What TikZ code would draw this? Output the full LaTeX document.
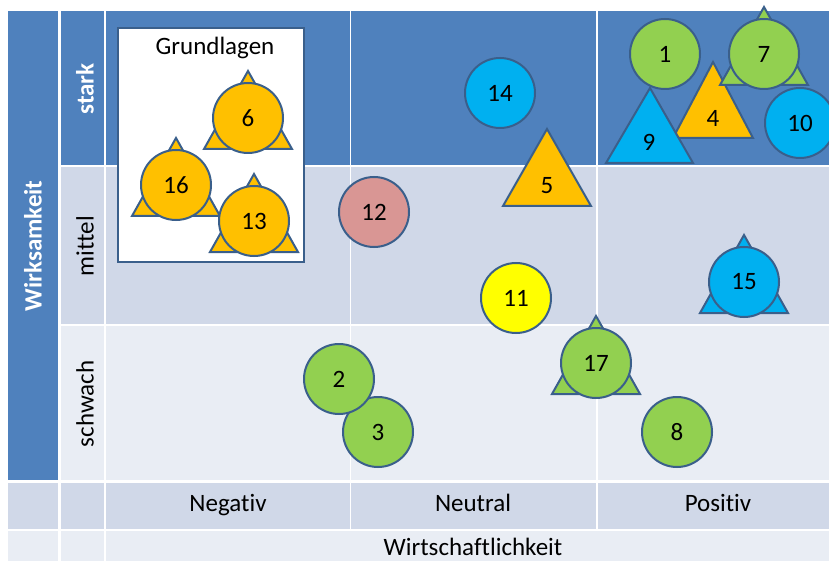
\documentclass[tikz,border=0pt]{standalone}
\usepackage{fontspec}
\setmainfont{Carlito}[Ligatures={NoCommon}]
\definecolor{hdr}{HTML}{4F81BD}
\definecolor{midrow}{HTML}{D0D8E8}
\definecolor{lowrow}{HTML}{E9EDF4}
\definecolor{edge}{HTML}{3A5F8B}
\definecolor{cgreen}{HTML}{92D050}
\definecolor{corange}{HTML}{FFC000}
\definecolor{ccyan}{HTML}{00B0F0}
\definecolor{cyellow}{HTML}{FFFF00}
\definecolor{cpink}{HTML}{D99694}
\newcommand\tricirc[5]{%
  \draw[tri, fill=#4] ({#2-44},{#3+31}) -- (#2,{#3-47}) -- ({#2+44},{#3+31}) -- cycle;
  \node[dot, fill=#4] (#1) at (#2,#3) {#5};}
\begin{document}
\begin{tikzpicture}[x=1pt,y=-1pt,
  dot/.style={circle, draw=edge, line width=2pt, minimum size=70pt, inner sep=0pt, font=\fontsize{25}{30}\selectfont},
  tri/.style={draw=edge, line width=2pt, line join=miter},
  lbl/.style={font=\fontsize{25}{30}\selectfont, inner sep=0pt},
  hlbl/.style={font=\fontsize{25}{30}\selectfont\bfseries, text=white, inner sep=0pt, rotate=90},
  rlbl/.style={font=\fontsize{25}{30}\selectfont, inner sep=0pt, rotate=90},
  sep/.style={white, line width=1.5pt}]
\useasboundingbox (0,0) rectangle (829,561);
\fill[white] (0,0) rectangle (829,561);
% table cells
\fill[hdr] (8,11) rectangle (58,480);
\fill[hdr] (61,11) rectangle (829,165);
\fill[midrow] (61,167.5) rectangle (829,324);
\fill[lowrow] (61,326) rectangle (829,480);
\fill[midrow] (8,483) rectangle (829,529);
\fill[lowrow] (8,531) rectangle (829,561);
\draw[white, line width=2.5pt] (59.5,11) -- (59.5,561);
\draw[sep] (105,11) -- (105,561);
\draw[sep] (350.5,11) -- (350.5,530);
\draw[sep] (597,11) -- (597,530);
% headers
\node[hlbl] (wirk) at (33,246) {Wirksamkeit};
\node[hlbl] (stark) at (85,89) {stark};
\node[rlbl] (mittel) at (85,246) {mittel};
\node[rlbl] (schwach) at (85,404) {schwach};
\node[lbl, anchor=base] (neg) at (228,511) {Negativ};
\node[lbl, anchor=base] (neu) at (473,511) {Neutral};
\node[lbl, anchor=base] (pos) at (718,511) {Positiv};
\node[lbl] (wirt) at (473,547) {Wirtschaftlichkeit};
% Grundlagen box
\draw[edge, fill=white, line width=2pt] (118,28) rectangle (304,262);
\node[lbl] (grund) at (215,48) {Grundlagen};
\tricirc{n6}{248}{118}{corange}{6}
\tricirc{n16}{176}{185}{corange}{16}
\tricirc{n13}{254}{221}{corange}{13}
% stark row
\node[dot, fill=ccyan] (n14) at (500,93) {14};
\node[dot, fill=cgreen] (n1) at (665,54) {1};
\draw[tri, fill=corange] (673,138) -- (713,62) -- (753,138) -- cycle;
\node[lbl] (n4) at (713,118) {4};
\draw[tri, fill=ccyan] (606,163) -- (650,88) -- (693,163) -- cycle;
\node[lbl] (n9) at (649,142) {9};
\tricirc{n7}{764}{54}{cgreen}{7}
\node[dot, fill=ccyan] (n10) at (800,123) {10};
\draw[tri, fill=corange] (503,206) -- (547,129) -- (591,206) -- cycle;
\node[lbl] (n5) at (547,186) {5};
% mittel row
\node[dot, fill=cpink] (n12) at (374,212) {12};
\node[dot, fill=cyellow] (n11) at (516,298) {11};
\tricirc{n15}{744}{282}{ccyan}{15}
% schwach row
\node[dot, fill=cgreen] (n3) at (378,432) {3};
\node[dot, fill=cgreen] (n2) at (339,379) {2};
\tricirc{n17}{596}{363}{cgreen}{17}
\node[dot, fill=cgreen] (n8) at (677,432) {8};
\end{tikzpicture}
\end{document}
